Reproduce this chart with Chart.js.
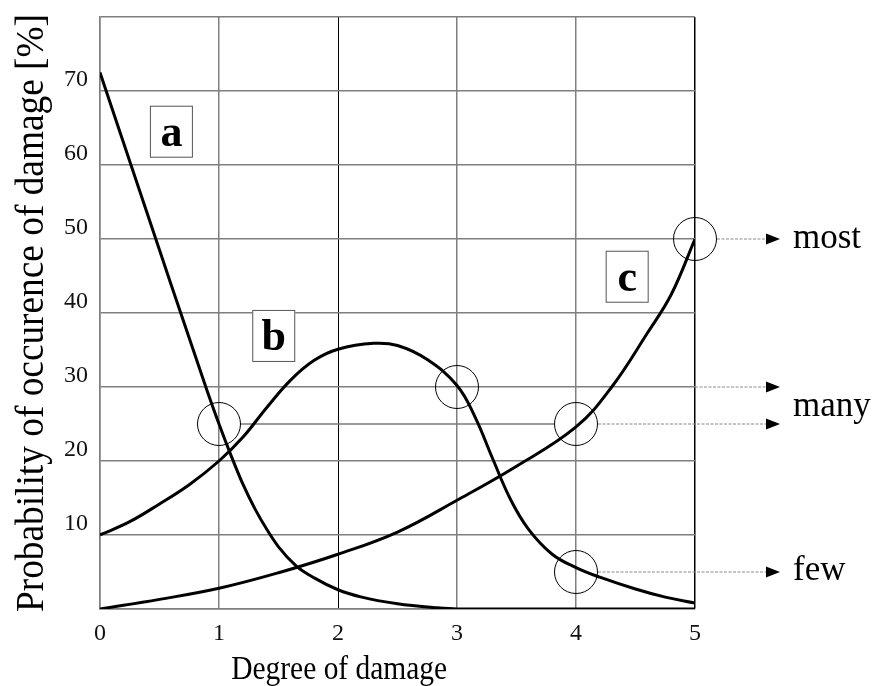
<!DOCTYPE html>
<html>
<head>
<meta charset="utf-8">
<script src="https://cdn.jsdelivr.net/npm/chart.js@4"></script>
<style>
  html, body { margin: 0; padding: 0; background: #fff; }
  #wrap { width: 873px; height: 686px; }
</style>
</head>
<body>
<div id="wrap"><canvas id="damageChart" width="873" height="686"></canvas></div>
<script>
'use strict';
// curve a: few damaged objects
const aX = [0, 0.5, 0.9, 1.0, 1.1, 1.2, 1.3, 1.4, 1.5, 1.65, 1.8, 2.0, 2.2, 2.5, 2.8, 3.0, 4.0, 5.0];
const aY = [72.5, 48.5, 29.5, 25, 20.8, 16.9, 13.6, 10.8, 8.4, 5.8, 4.2, 2.6, 1.6, 0.7, 0.2, 0, 0, 0];
// curve b
const bX = [0, 0.25, 0.5, 0.75, 1.0, 1.2, 1.4, 1.6, 1.8, 2.0, 2.3, 2.5, 2.75, 3.0, 3.15, 3.3, 3.45, 3.6, 3.8, 4.0, 4.2, 4.5, 4.75, 5.0];
const bY = [10, 11.8, 14.2, 16.8, 20, 23.2, 27.2, 30.9, 33.6, 35.1, 35.9, 35.6, 33.7, 30.2, 26, 20.3, 14.8, 10.8, 7.4, 5.6, 4.3, 2.7, 1.6, 0.8];
// curve c
const cX = [0, 0.5, 1.0, 1.5, 2.0, 2.5, 3.0, 3.5, 4.0, 4.3, 4.6, 4.8, 5.0];
const cY = [0, 1.3, 2.8, 4.9, 7.4, 10.4, 14.7, 19.3, 24.6, 30, 37.3, 42.5, 50];
// circled points
const markX = [1, 3, 4, 4, 5];
const markY = [25, 30, 25, 5, 50];
const xTicks = [0, 1, 2, 3, 4, 5];
const yTickLabels = ['10', '20', '30', '40', '50', '60', '70'];

const toPts = (xs, ys) => xs.map((x, i) => ({ x: x, y: ys[i] }));
const serif = '"Liberation Serif", "DejaVu Serif", serif';

function squeezedText(ctx, text, x, y, size, width, rot) {
    ctx.save();
    ctx.translate(x, y);
    if (rot) ctx.rotate(rot);
    ctx.font = size + 'px ' + serif;
    const w = ctx.measureText(text).width;
    ctx.scale(width / w, 1);
    ctx.textAlign = 'center';
    ctx.textBaseline = 'alphabetic';
    ctx.fillStyle = '#000';
    ctx.fillText(text, 0, 0);
    ctx.restore();
}

function arrow(ctx, x1, x2, y) {
    ctx.save();
    ctx.strokeStyle = '#8a8a8a';
    ctx.lineWidth = 1;
    ctx.setLineDash([3, 1.5]);
    ctx.beginPath();
    ctx.moveTo(x1, y);
    ctx.lineTo(x2 - 12, y);
    ctx.stroke();
    ctx.setLineDash([]);
    ctx.fillStyle = '#000';
    ctx.beginPath();
    ctx.moveTo(x2, y);
    ctx.lineTo(x2 - 14, y - 5.5);
    ctx.lineTo(x2 - 14, y + 5.5);
    ctx.closePath();
    ctx.fill();
    ctx.restore();
}

const annotate = {
    id: 'annotate',
    beforeDatasetsDraw(chart) {
        const ctx = chart.ctx, xs = chart.scales.x, ys = chart.scales.y;
        const r = 22;
        // guide line at 25 between the two circles
        ctx.save();
        ctx.strokeStyle = '#7a7a7a';
        ctx.lineWidth = 1.5;
        ctx.beginPath();
        ctx.moveTo(xs.getPixelForValue(1) + r, ys.getPixelForValue(25));
        ctx.lineTo(xs.getPixelForValue(4) - r, ys.getPixelForValue(25));
        ctx.stroke();
        ctx.restore();
    },
    afterDatasetsDraw(chart) {
        const ctx = chart.ctx, xs = chart.scales.x, ys = chart.scales.y;
        const area = chart.chartArea;
        const r = 22;
        const tip = area.right + 85;
        arrow(ctx, xs.getPixelForValue(5) + r, tip, ys.getPixelForValue(50));
        arrow(ctx, area.right, tip, ys.getPixelForValue(30));
        arrow(ctx, xs.getPixelForValue(4) + r, tip, ys.getPixelForValue(25));
        arrow(ctx, xs.getPixelForValue(4) + r, tip, ys.getPixelForValue(5));

        ctx.save();
        ctx.fillStyle = '#000';
        ctx.font = '35px ' + serif;
        ctx.textAlign = 'left';
        ctx.textBaseline = 'alphabetic';
        ctx.fillText('most', tip + 13, ys.getPixelForValue(50) + 9);
        ctx.fillText('many', tip + 13, ys.getPixelForValue(25) - 8);
        ctx.fillText('few', tip + 13, ys.getPixelForValue(5) + 8);
        ctx.restore();

        // letter boxes
        const boxes = [['a', 0.6, 64.5], ['b', 1.46, 36.9], ['c', 4.43, 44.9]];
        boxes.forEach(([t, bx, by]) => {
            const cx = xs.getPixelForValue(bx), cy = ys.getPixelForValue(by);
            ctx.save();
            ctx.fillStyle = '#fff';
            ctx.fillRect(cx - 21.5, cy - 26, 43, 52);
            ctx.strokeStyle = '#555';
            ctx.lineWidth = 1;
            ctx.strokeRect(cx - 21.5 + 0.5, cy - 26 + 0.5, 42, 51);
            ctx.fillStyle = '#000';
            ctx.font = 'bold 44px ' + serif;
            ctx.textAlign = 'center';
            ctx.textBaseline = 'alphabetic';
            ctx.fillText(t, cx, cy + 14);
            ctx.restore();
        });

        // axis titles
        squeezedText(ctx, 'Degree of damage', xs.getPixelForValue(2.01), 679, 34, 216, 0);
        squeezedText(ctx, 'Probability of occurence of damage [%]', 43, (area.top + area.bottom) / 2, 41, 598, -Math.PI / 2);
    }
};

const ctx = document.getElementById('damageChart').getContext('2d');
const curveStyle = {
    borderColor: '#000',
    borderWidth: 3,
    pointRadius: 0,
    fill: false,
    showLine: true,
    order: 1
};
const damageChart = new Chart(ctx, {
    type: 'scatter',
    data: {
        datasets: [
            {
                label: 'marks',
                data: toPts(markX, markY),
                pointRadius: 21.5,
                pointHoverRadius: 21.5,
                pointBorderWidth: 1,
                pointBorderColor: '#000',
                pointBackgroundColor: 'rgba(0,0,0,0)',
                showLine: false,
                order: 0,
                clip: false
            },
            Object.assign({ label: 'a', data: toPts(aX, aY), cubicInterpolationMode: 'monotone' }, curveStyle),
            Object.assign({ label: 'b', data: toPts(bX, bY), tension: 0.4 }, curveStyle),
            Object.assign({ label: 'c', data: toPts(cX, cY), tension: 0.4 }, curveStyle)
        ]
    },
    options: {
        responsive: false,
        animation: false,
        layout: { autoPadding: false, padding: { left: 0, top: 17, right: 178, bottom: 0 } },
        plugins: { legend: { display: false }, tooltip: { enabled: false } },
        scales: {
            x: {
                type: 'linear',
                min: 0,
                max: 5,
                afterFit: s => { s.height = 77; s.paddingLeft = 0; s.paddingRight = 0; },
                afterBuildTicks: s => { s.ticks = xTicks.map(v => ({ value: v })); },
                grid: {
                    drawTicks: false,
                    color: c => c.tick && c.tick.value === 2 ? '#000' : (c.tick && c.tick.value === 5 ? '#000' : '#7f7f7f'),
                    lineWidth: c => c.tick && c.tick.value === 2 ? 1 : 1.5
                },
                border: { color: '#7f7f7f', width: 1.5 },
                ticks: { padding: 10, color: '#111', font: { family: serif, size: 24 } }
            },
            y: {
                min: 0,
                max: 80,
                afterFit: s => { s.width = 100; s.paddingTop = 0; s.paddingBottom = 0; },
                grid: { drawTicks: false, color: '#7f7f7f', lineWidth: 1.5 },
                border: { color: '#7f7f7f', width: 1.5 },
                ticks: {
                    stepSize: 10,
                    padding: 12,
                    labelOffset: -11,
                    color: '#111',
                    font: { family: serif, size: 24 },
                    callback: v => yTickLabels.includes(String(v)) ? String(v) : ''
                }
            }
        }
    },
    plugins: [annotate]
});
</script>
</body>
</html>
